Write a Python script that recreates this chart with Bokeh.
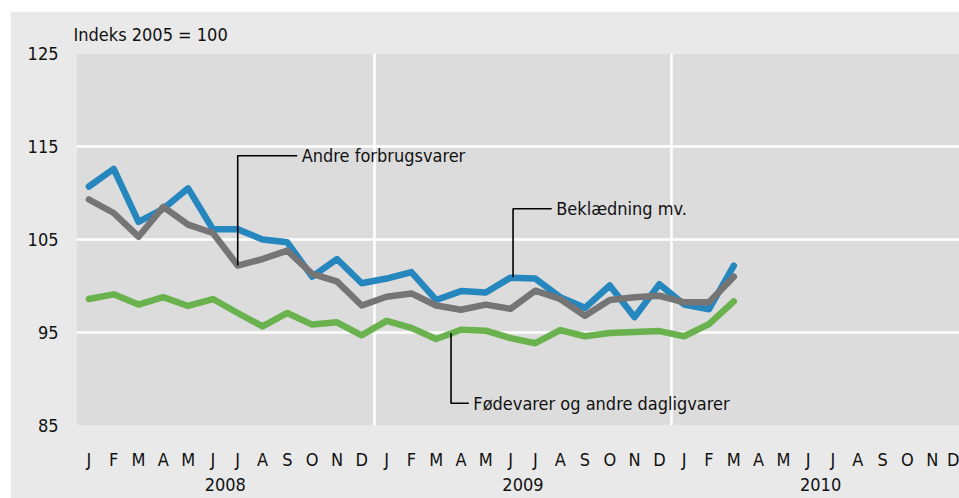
from bokeh.plotting import figure
from bokeh.models import Range1d, FixedTicker, LinearAxis, Label, Title, Spacer
from bokeh.layouts import column, row
from bokeh.embed import file_html
from bokeh.resources import INLINE

# ---- data ----
month_letters = ["J", "F", "M", "A", "M", "J", "J", "A", "S", "O", "N", "D"]
years = ["2008", "2009", "2010"]
months_idx = list(range(27))  # Jan 2008 .. Mar 2010

beklaedning = [110.7, 112.6, 106.9, 108.3, 110.5, 106.1, 106.1, 105.0, 104.7, 101.0,
               102.9, 100.3, 100.8, 101.5, 98.5, 99.45, 99.3, 100.9, 100.8, 98.8,
               97.65, 100.05, 96.65, 100.2, 98.0, 97.5, 102.2]
andre = [109.3, 107.85, 105.3, 108.5, 106.6, 105.7, 102.2, 102.9, 103.8, 101.3,
         100.5, 97.9, 98.85, 99.2, 97.9, 97.45, 98.0, 97.55, 99.5, 98.6,
         96.8, 98.5, 98.8, 98.95, 98.25, 98.25, 101.0]
foedevarer = [98.6, 99.1, 98.0, 98.8, 97.85, 98.6, 97.1, 95.65, 97.1, 95.85,
              96.1, 94.7, 96.25, 95.5, 94.3, 95.3, 95.2, 94.4, 93.85, 95.25,
              94.6, 94.95, 95.05, 95.15, 94.6, 95.9, 98.35]

y_ticks = [85, 95, 105, 115, 125]
year_ticks = [5.5, 17.5, 29.5]
year_bounds = [-0.5, 11.5, 23.5, 35.5]

# callouts: label, anchor month index, anchor value, elbow value, end x
callout_andre = dict(text="Andre forbrugsvarer", x=6, y0=andre[6], y1=114.0, x1=8.4)
callout_bekl = dict(text="Beklædning mv.", x=17.1, y0=100.95, y1=108.3, x1=18.66)
callout_foed = dict(text="Fødevarer og andre dagligvarer", x=14.6, y0=94.95, y1=87.4, x1=15.32)
title_text = "Indeks 2005 = 100"

FONT = "DejaVu Sans Condensed, Lato, sans-serif"
FS = "18px"

p = figure(width=949, height=487, output_backend="svg", toolbar_location=None,
           x_range=Range1d(-0.5, 35.1), y_range=Range1d(85, 125),
           min_border_left=66, min_border_top=42, min_border_bottom=73, min_border_right=0,
           background_fill_color="#dcdcdc", border_fill_color="#e9e9e9",
           outline_line_color=None)

# axes
p.yaxis.ticker = FixedTicker(ticks=y_ticks)
p.xaxis.ticker = FixedTicker(ticks=list(range(36)))
p.xaxis.major_label_overrides = {i: month_letters[i % 12] for i in range(36)}
year_axis = LinearAxis(ticker=FixedTicker(ticks=year_ticks),
                       major_label_overrides={t: y for t, y in zip(year_ticks, years)})
p.add_layout(year_axis, "below")

for ax in p.axis:
    ax.axis_line_color = None
    ax.major_tick_line_color = None
    ax.minor_tick_line_color = None
    ax.major_tick_out = 0
    ax.major_tick_in = 0
    ax.major_label_text_font = FONT
    ax.major_label_text_font_size = FS
    ax.major_label_text_color = "#111111"
p.yaxis.major_label_standoff = 18
p.xaxis[0].major_label_standoff = 23
year_axis.major_label_standoff = 5

# grid
p.ygrid.ticker = FixedTicker(ticks=y_ticks)
p.ygrid.grid_line_color = "white"
p.ygrid.grid_line_width = 2.5
p.xgrid.ticker = FixedTicker(ticks=year_bounds)
p.xgrid.grid_line_color = "white"
p.xgrid.grid_line_width = 2.5

# series
p.line(months_idx, foedevarer, line_color="#69b24e", line_width=6.5, line_join="round", line_cap="round")
p.line(months_idx, beklaedning, line_color="#2587be", line_width=6.5, line_join="round", line_cap="round")
p.line(months_idx, andre, line_color="#757575", line_width=6.5, line_join="round", line_cap="round")

# callouts
for c in (callout_andre, callout_bekl, callout_foed):
    p.line([c["x"], c["x"], c["x1"]], [c["y0"], c["y1"], c["y1"]], line_color="black", line_width=1.6)
    p.add_layout(Label(x=c["x1"] + 0.18, y=c["y1"], text=c["text"], text_font=FONT,
                       text_font_size=FS, text_baseline="middle", text_color="#111111"))

p.add_layout(Title(text=title_text, align="left", offset=-3, standoff=18,
                   text_font=FONT, text_font_size=FS, text_font_style="normal",
                   text_color="#111111"), "above")

layout = column(Spacer(height=11), row(Spacer(width=10), p))
open("out.html", "w").write(file_html(layout, INLINE))
